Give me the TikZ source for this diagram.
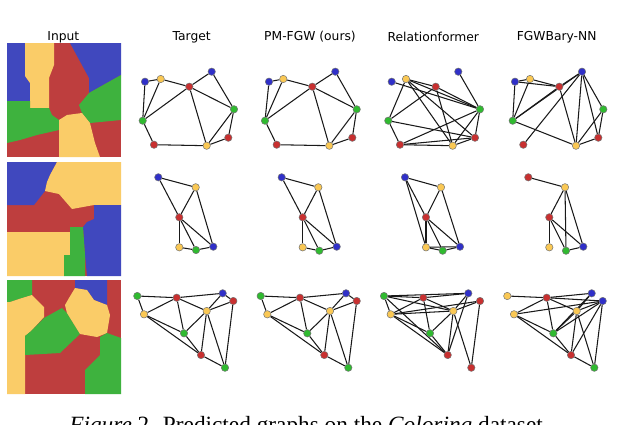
\documentclass[tikz,border=0pt]{standalone}
\usepackage{fontspec}
\setmainfont{Liberation Serif}
\newfontfamily\hdr{DejaVu Sans}
\usetikzlibrary{backgrounds}
\definecolor{iblue}{RGB}{64,72,190}
\definecolor{iyel}{RGB}{250,204,104}
\definecolor{ired}{RGB}{190,62,62}
\definecolor{igrn}{RGB}{62,178,62}
\definecolor{nB}{RGB}{48,48,200}
\definecolor{nY}{RGB}{250,200,84}
\definecolor{nR}{RGB}{200,48,48}
\definecolor{nG}{RGB}{48,186,48}
\tikzset{
  nd/.style={circle, draw=black!55, line width=0.5pt, minimum size=7.4pt, inner sep=0pt},
  ed/.style={line width=1.05pt, black!90},
  hd/.style={font=\hdr\fontsize{12.3}{14}\selectfont, inner sep=0pt},
  captxt/.style={font=\fontsize{23.3}{26}\selectfont, anchor=base, inner sep=0pt}
}
\begin{document}
\begin{tikzpicture}[x=1pt,y=-1pt]
\useasboundingbox (0,0) rectangle (640,424);
\clip (0,0) rectangle (640,424);
% headers
\node[hd] (h0) at (63.3,37) {Input};
\node[hd] (h1) at (191.7,37) {Target};
\node[hd] (h2) at (310,37) {PM-FGW (ours)};
\node[hd] (h3) at (433.3,37) {Relationformer};
\node[hd] (h4) at (556.7,37) {FGWBary-NN};
% input image 1
\begin{scope}[shift={(7,43)}]
\fill[ired] (0,0) rectangle (114,114);
\fill[iblue] (0,0)--(18,0)--(18,33)--(23,40)--(23,58)--(0,58)--cycle;
\fill[iyel] (18,0)--(47,0)--(47,22)--(42,35)--(42,65)--(23,65)--(23,40)--(18,33)--cycle;
\fill[iblue] (63,0)--(114,0)--(114,32)--(82,50)--(82,35)--cycle;
\fill[igrn] (114,32)--(114,77)--(83,80)--(75,70)--(72,62)--(82,50)--cycle;
\fill[igrn] (0,58)--(23,58)--(23,65)--(42,65)--(45,72)--(52,77)--(52,87)--(30,92)--(13,97)--(0,100)--cycle;
\fill[iyel] (52,77)--(60,72)--(75,70)--(83,80)--(88,100)--(93,114)--(52,114)--cycle;
\end{scope}
% input image 2
\begin{scope}[shift={(7,162)}]
\fill[ired] (0,0) rectangle (114,114);
\fill[iblue] (0,0)--(50,0)--(43,13)--(40,20)--(38,29)--(27,43)--(0,43)--cycle;
\fill[iyel] (50,0)--(114,0)--(114,43)--(87,43)--(65,47)--(52,32)--(38,29)--(40,20)--(43,13)--cycle;
\fill[iblue] (87,43)--(114,43)--(114,114)--(80,114)--(78,93)--(76,65)--(80,60)--(87,57)--cycle;
\fill[iyel] (0,70)--(63,70)--(63,93)--(57,93)--(57,114)--(0,114)--cycle;
\fill[igrn] (63,65)--(76,65)--(78,93)--(78,114)--(57,114)--(57,93)--(63,93)--cycle;
\end{scope}
% input image 3
\begin{scope}[shift={(7,280)}]
\fill[ired] (0,0) rectangle (114,114);
\fill[igrn] (0,0)--(25,0)--(25,15)--(12,19)--(3,22)--(0,22)--cycle;
\fill[iblue] (68,0)--(100,0)--(100,25)--(87,20)--(80,10)--(68,8)--cycle;
\fill[iyel] (0,22)--(3,22)--(12,19)--(25,15)--(37,27)--(37,37)--(27,48)--(23,52)--(18,56)--(18,114)--(0,114)--cycle;
\fill[igrn] (18,56)--(23,52)--(37,38)--(55,28)--(60,33)--(73,54)--(53,73)--(18,75)--cycle;
\fill[iyel] (58,25)--(62,18)--(68,8)--(80,10)--(87,20)--(100,25)--(103,35)--(100,53)--(90,57)--(73,54)--(60,33)--cycle;
\fill[igrn] (93,57)--(100,53)--(114,58)--(114,114)--(78,114)--(78,90)--(93,75)--cycle;
\end{scope}
% ---------- row 1 ----------
\foreach \n/\c/\x/\y in {B1/nB/145/81.7, Y1/nY/160.7/79, R1/nR/189.3/86.7, B2/nB/211.7/71.7, G1/nG/234/109.3, G2/nG/142.7/120.7, R2/nR/154/144.7, Y2/nY/206.7/145.7, R3/nR/228.3/137.7}
  \node[nd, fill=\c] (ta\n) at (\x,\y) {};
\foreach \n/\c/\x/\y in {B1/nB/269/81.7, Y1/nY/283.3/79, R1/nR/312.3/86.7, B2/nB/335.3/71.7, G1/nG/356.7/109.3, G2/nG/265/120.7, R2/nR/276.7/144.7, Y2/nY/329.3/145.7, R3/nR/352.3/137.7}
  \node[nd, fill=\c] (pa\n) at (\x,\y) {};
\foreach \n/\c/\x/\y in {B1/nB/391.7/81.7, Y1/nY/406/79, R1/nR/435.7/86.7, B2/nB/458.3/71.7, G1/nG/480/109.3, G2/nG/388.3/120.7, R2/nR/400/144.7, Y2/nY/452.7/145.7, R3/nR/475/137.7}
  \node[nd, fill=\c] (la\n) at (\x,\y) {};
\foreach \n/\c/\x/\y in {B1/nB/515/81.7, Y1/nY/530/79, R1/nR/559.3/86.7, B2/nB/582/71.7, G1/nG/603.3/109.3, G2/nG/512.7/120.7, R2/nR/523.3/144.7, Y2/nY/576/145.7, R3/nR/598.3/137.7}
  \node[nd, fill=\c] (fa\n) at (\x,\y) {};
% ---------- row 2 ----------
\foreach \n/\c/\x/\y in {B/nB/158.3/177.3, Y1/nY/195.7/187.3, R/nR/179.3/217.3, Y2/nY/179.3/247.3, G/nG/196/250, B2/nB/213.3/246.7}
  \node[nd, fill=\c] (tb\n) at (\x,\y) {};
\foreach \n/\c/\x/\y in {B/nB/281.7/177.3, Y1/nY/318.3/187.3, R/nR/302.7/217.3, Y2/nY/302.7/247.3, G/nG/319.3/250.7, B2/nB/336.7/246.7}
  \node[nd, fill=\c] (pb\n) at (\x,\y) {};
\foreach \n/\c/\x/\y in {B/nB/405/177.3, Y1/nY/441/187.3, R/nR/426/217.3, Y2/nY/426/247.3, G/nG/442.7/250.7, B2/nB/460/246.7}
  \node[nd, fill=\c] (lb\n) at (\x,\y) {};
\foreach \n/\c/\x/\y in {R0/nR/528.3/177.3, Y1/nY/565/187.3, R/nR/549.3/217.3, Y2/nY/549.3/247.3, G/nG/566/250.7, B2/nB/583.3/246.7}
  \node[nd, fill=\c] (fb\n) at (\x,\y) {};
% ---------- row 3 ----------
\foreach \n/\c/\x/\y in {G1/nG/137.3/296, R1/nR/176.7/297.7, B/nB/222.7/293.3, R2/nR/233.3/301, Y1/nY/144/314.3, Y2/nY/206.7/311, G2/nG/184/333.3, R3/nR/201/355, G3/nG/225/367.7}
  \node[nd, fill=\c] (tc\n) at (\x,\y) {};
\foreach \n/\c/\x/\y in {G1/nG/260.7/296, R1/nR/300/297.7, B/nB/346/293.3, R2/nR/356.7/301, Y1/nY/267.3/314.3, Y2/nY/330/311, G2/nG/307.3/333.3, R3/nR/324.3/355, G3/nG/348.3/367.7}
  \node[nd, fill=\c] (pc\n) at (\x,\y) {};
\foreach \n/\c/\x/\y in {G1/nG/384/296, R1/nR/423.3/297.7, B/nB/468.3/293.3, R2/nR/480/301, Y1/nY/390.7/314.3, Y2/nY/453.3/311, G2/nG/430/333.3, R3/nR/447.7/355, R4/nR/471.3/367.7}
  \node[nd, fill=\c] (lc\n) at (\x,\y) {};
\foreach \n/\c/\x/\y in {Y0/nY/507.3/296, R1/nR/546.7/297.7, B1/nB/591.7/293.3, B2/nB/602.7/301, Y1/nY/514/314.3, Y2/nY/576.7/311, G2/nG/553.3/333.3, R3/nR/571/355, G3/nG/594.3/367.7}
  \node[nd, fill=\c] (fc\n) at (\x,\y) {};
% ---------- edges ----------
\begin{pgfonlayer}{background}
\fill[white] (0,0) rectangle (640,424);
\foreach \g in {ta,pa}
  \foreach \a/\b in {B1/Y1, B1/G2, Y1/G2, Y1/R1, R1/B2, R1/G2, R1/Y2, R1/G1, B2/G1, G1/Y2, G1/R3, R3/Y2, G2/R2, R2/Y2}
    \draw[ed] (\g\a) -- (\g\b);
\foreach \a/\b in {Y1/R1, Y1/G1, B1/G1, R1/G1, Y1/G2, Y1/R3, R1/G2, R1/Y2, B2/G1, G2/R2, G2/R3, R2/G1, R2/Y2, R2/R3, Y2/G1, Y2/R3, G1/R3, Y1/Y2}
  \draw[ed] (la\a) -- (la\b);
\foreach \a/\b in {B1/Y1, B1/R1, Y1/R1, B1/G2, Y1/G2, G2/R1, G2/B2, G2/Y2, R1/Y2, R2/B2, R1/B2, B2/Y2, B2/R3, B2/G1, G1/Y2, G1/R3, R3/Y2}
  \draw[ed] (fa\a) -- (fa\b);
\foreach \g in {tb,pb}
  \foreach \a/\b in {B/Y1, B/R, Y1/R, Y1/B2, R/Y2, R/G, R/B2, Y2/G, G/B2}
    \draw[ed] (\g\a) -- (\g\b);
\foreach \a/\b in {B/Y1, B/R, B/Y2, Y1/R, Y1/B2, R/Y2, R/G, R/B2, Y2/G, G/B2, Y2/B2}
  \draw[ed] (lb\a) -- (lb\b);
\foreach \a/\b in {R0/Y1, Y1/R, Y1/G, Y1/B2, R/Y2, R/G, R/B2, G/B2}
  \draw[ed] (fb\a) -- (fb\b);
\foreach \g in {tc,pc}
  \foreach \a/\b in {G1/R1, G1/Y1, R1/B, R1/Y1, R1/Y2, R1/G2, B/Y2, B/R2, Y2/R2, Y2/G2, Y2/R3, Y2/G3, R2/G3, Y1/G2, Y1/R3, G2/R3, R3/G3}
    \draw[ed] (\g\a) -- (\g\b);
\foreach \a/\b in {G1/R1, G1/B, G1/Y1, G1/Y2, G1/R3, R1/B, R1/Y1, R1/Y2, R1/G2, Y1/Y2, Y1/G2, Y1/R3, B/Y2, B/R3, R2/Y2, R2/R4, Y2/G2, Y2/R3, Y2/R4, G2/R3, Y1/R2}
  \draw[ed] (lc\a) -- (lc\b);
\foreach \a/\b in {Y0/R1, R1/B1, R1/B2, R1/Y1, R1/Y2, R1/G2, Y1/B2, Y1/G2, Y1/R3, B1/Y2, B1/G2, B2/Y2, B2/G2, B2/R3, B2/G3, Y2/G2, Y2/R3, Y2/G3, G2/R3, R3/G3}
  \draw[ed] (fc\a) -- (fc\b);
\end{pgfonlayer}
% caption
\node[captxt] (cp) at (309,432) {\textit{Figure} 2. Predicted graphs on the \textit{Coloring} dataset.};
\end{tikzpicture}
\end{document}
